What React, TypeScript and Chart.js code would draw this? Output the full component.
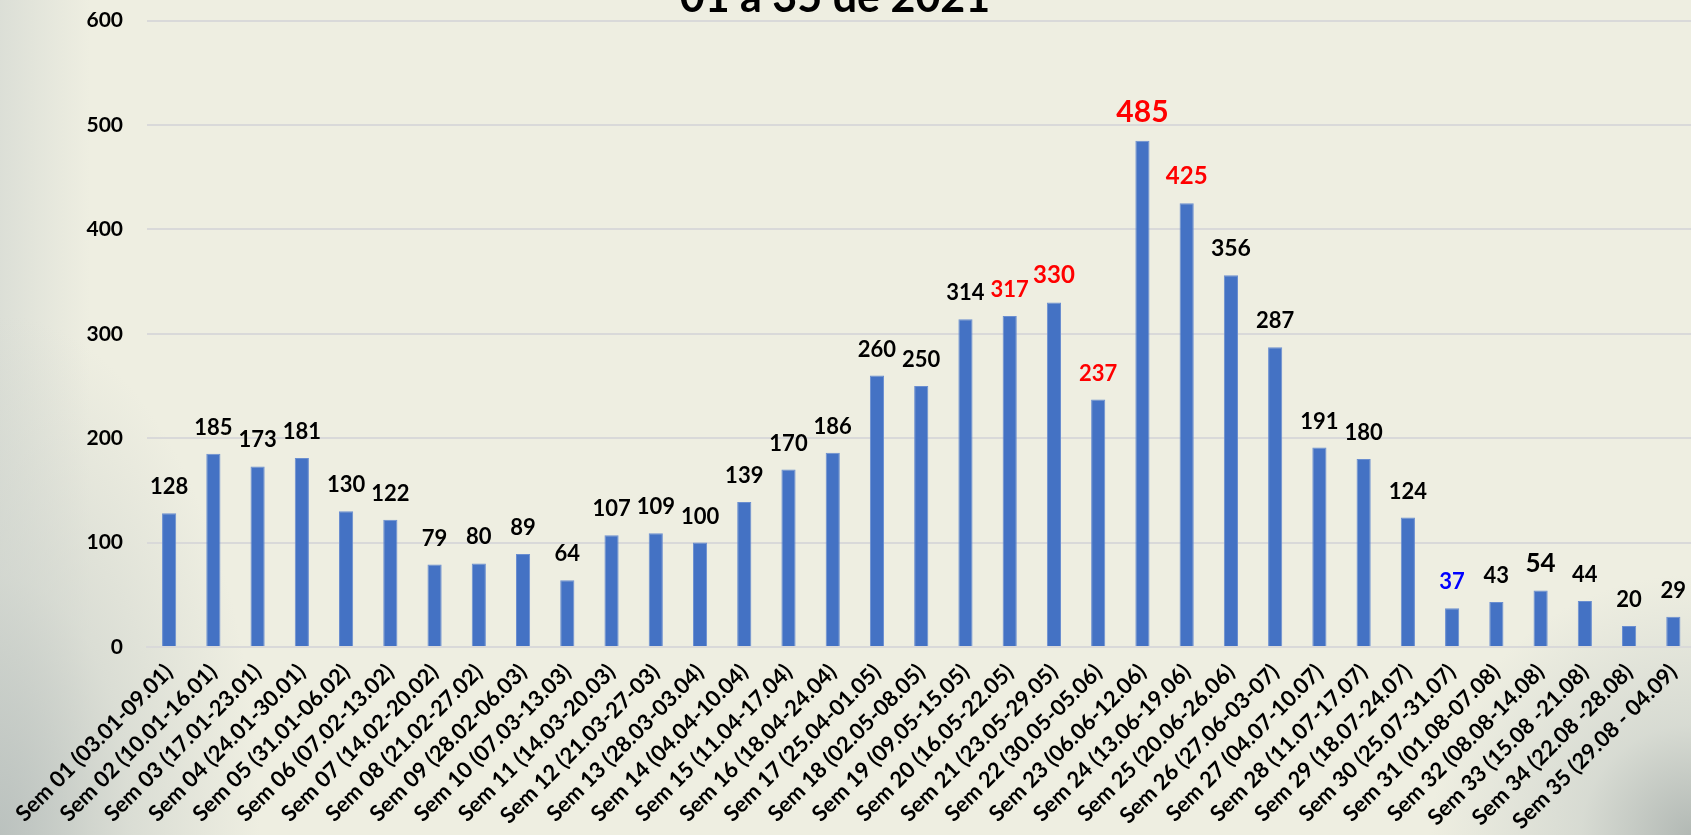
import React, { useEffect, useRef } from "react";
import { Chart, registerables } from "chart.js";

Chart.register(...registerables);

const categories = [
  "Sem 01 (03.01-09.01)", "Sem 02 (10.01-16.01)", "Sem 03 (17.01-23.01)", "Sem 04 (24.01-30.01)",
  "Sem 05 (31.01-06.02)", "Sem 06 (07.02-13.02)", "Sem 07 (14.02-20.02)", "Sem 08 (21.02-27.02)",
  "Sem 09 (28.02-06.03)", "Sem 10 (07.03-13.03)", "Sem 11 (14.03-20.03)", "Sem 12 (21.03-27-03)",
  "Sem 13 (28.03-03.04)", "Sem 14 (04.04-10.04)", "Sem 15 (11.04-17.04)", "Sem 16 (18.04-24.04)",
  "Sem 17 (25.04-01.05)", "Sem 18 (02.05-08.05)", "Sem 19 (09.05-15.05)", "Sem 20 (16.05-22.05)",
  "Sem 21 (23.05-29.05)", "Sem 22 (30.05-05.06)", "Sem 23 (06.06-12.06)", "Sem 24 (13.06-19.06)",
  "Sem 25 (20.06-26.06)", "Sem 26 (27.06-03-07)", "Sem 27 (04.07-10.07)", "Sem 28 (11.07-17.07)",
  "Sem 29 (18.07-24.07)", "Sem 30 (25.07-31.07)", "Sem 31 (01.08-07.08)", "Sem 32 (08.08-14.08)",
  "Sem 33 (15.08 -21.08)", "Sem 34 (22.08 -28.08)", "Sem 35 (29.08 - 04.09)",
];

const values = [
  128, 185, 173, 181, 130, 122, 79, 80, 89, 64,
  107, 109, 100, 139, 170, 186, 260, 250, 314, 317,
  330, 237, 485, 425, 356, 287, 191, 180, 124, 37,
  43, 54, 44, 20, 29,
];

const yTicks = [0, 100, 200, 300, 400, 500, 600];

const titleText = "01 a 35 de 2021";

// label styling per bar (colour / font size)
const labelColors = values.map((_, i) => {
  if ([19, 20, 21, 22, 23].includes(i)) return "#FF0000";
  if (i === 29) return "#0000FF";
  return "#000000";
});
const labelSizes = values.map((_, i) => {
  if (i === 22) return 30;
  if (i === 23 || i === 20) return 24;
  if (i === 31) return 26;
  if (i === 24) return 23;
  return 22;
});

const FONT = "Lato, 'Open Sans', sans-serif";
const SHIFT = 16; // canvas is shifted up by this many px

const valueLabelPlugin = {
  id: "valueLabels",
  afterDatasetsDraw(chart: any) {
    const ctx = chart.ctx;
    const meta = chart.getDatasetMeta(0);
    ctx.save();
    ctx.textAlign = "center";
    ctx.textBaseline = "alphabetic";
    meta.data.forEach((bar: any, i: number) => {
      ctx.font = `bold ${labelSizes[i]}px ${FONT}`;
      ctx.fillStyle = labelColors[i];
      ctx.fillText(String(values[i]), bar.x, bar.y - 19);
    });
    ctx.restore();
  },
};

const titlePlugin = {
  id: "cutTitle",
  afterDraw(chart: any) {
    const ctx = chart.ctx;
    ctx.save();
    ctx.font = `bold 43px ${FONT}`;
    ctx.fillStyle = "#000000";
    ctx.textAlign = "center";
    ctx.textBaseline = "alphabetic";
    ctx.fillText(titleText, 835, 12 + SHIFT);
    ctx.restore();
  },
};

export default function App() {
  const ref = useRef<HTMLCanvasElement | null>(null);

  useEffect(() => {
    if (!ref.current) return;
    const chart = new Chart(ref.current, {
      type: "bar",
      data: {
        labels: categories,
        datasets: [
          {
            data: values,
            backgroundColor: "#4472C4",
            borderColor: "#6A8ED0",
            borderWidth: 1,
            categoryPercentage: 1,
            barPercentage: 0.32,
          },
        ],
      },
      options: {
        responsive: false,
        animation: false,
        devicePixelRatio: 1,
        layout: { padding: { top: 4, left: 0, right: 0, bottom: 0 } },
        plugins: {
          legend: { display: false },
          title: { display: false },
          tooltip: { enabled: false },
        },
        scales: {
          x: {
            grid: { display: false, drawTicks: false },
            border: { display: true, color: "#D9D9D9", width: 2 },
            ticks: {
              autoSkip: false,
              maxRotation: 45,
              minRotation: 45,
              padding: 12,
              color: "#000000",
              font: { family: FONT, size: 22, weight: "bold" },
            },
            afterFit(scale: any) {
              scale.height = 188;
            },
          },
          y: {
            min: 0,
            max: 600,
            afterBuildTicks(scale: any) {
              scale.ticks = yTicks.map((v) => ({ value: v }));
            },
            grid: { color: "#D9D9D9", lineWidth: 2, drawTicks: false },
            border: { display: false },
            ticks: {
              padding: 24,
              color: "#000000",
              font: { family: FONT, size: 21, weight: "bold" },
            },
            afterFit(scale: any) {
              scale.width = 147;
            },
          },
        },
      },
      plugins: [valueLabelPlugin, titlePlugin],
    });
    return () => chart.destroy();
  }, []);

  return (
    <div
      style={{
        position: "fixed",
        left: 0,
        top: 0,
        width: 1691,
        height: 835,
        overflow: "hidden",
        background: [
          "radial-gradient(circle at 100% 100%, rgba(175,182,178,0.95) 0px, rgba(200,206,201,0.6) 110px, rgba(238,238,225,0) 260px)",
          "radial-gradient(ellipse 260px 520px at 0% 100%, rgba(185,192,189,0.95) 0%, rgba(205,210,204,0.6) 50%, rgba(238,238,225,0) 100%)",
          "linear-gradient(to right, rgba(215,219,212,0.8) 0px, rgba(238,238,225,0) 90px)",
          "#EEEEE1",
        ].join(", "),
      }}
    >
      <canvas
        ref={ref}
        width={1704}
        height={835 + SHIFT}
        style={{ display: "block", position: "absolute", left: 0, top: -SHIFT }}
      />
    </div>
  );
}
